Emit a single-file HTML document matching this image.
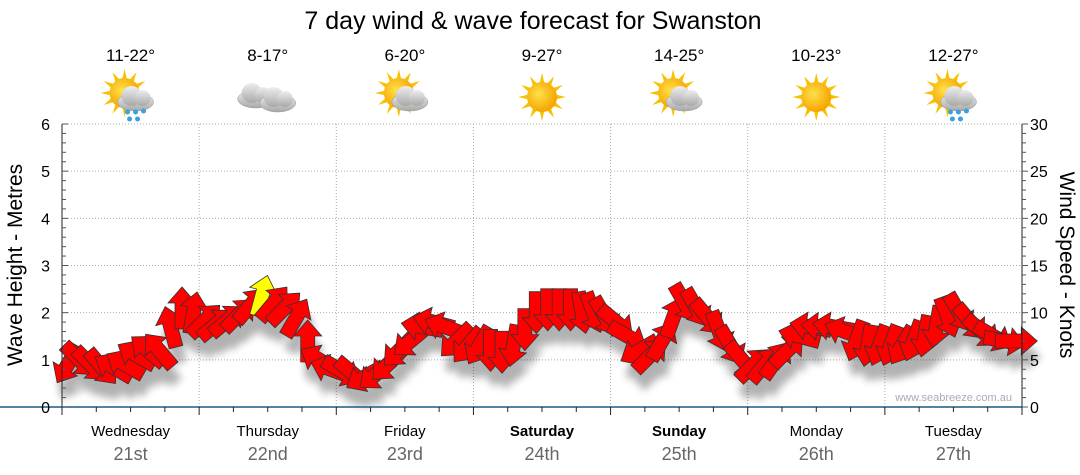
<!DOCTYPE html>
<html><head><meta charset="utf-8"><style>
body{margin:0;background:#fff;font-family:"Liberation Sans","DejaVu Sans",sans-serif}
svg{display:block}
</style></head><body>
<svg id="c" width="1080" height="475" xmlns="http://www.w3.org/2000/svg">
<defs>
<filter id="sh" x="-50%" y="-50%" width="200%" height="200%"><feGaussianBlur stdDeviation="4"/></filter>
<radialGradient id="sun" cx="0.4" cy="0.4" r="0.6"><stop offset="0" stop-color="#ffe14a"/><stop offset="1" stop-color="#f5a500"/></radialGradient>
<linearGradient id="cl" x1="0" y1="0" x2="0" y2="1"><stop offset="0" stop-color="#eee"/><stop offset="1" stop-color="#a8a8a8"/></linearGradient>
</defs>
<text x="533" y="29" font-size="25" text-anchor="middle">7 day wind &amp; wave forecast for Swanston</text>
<g id="grid"></g>
<g id="shadows" filter="url(#sh)" opacity="0.3"></g>
<g id="arrows"></g>
<g id="axes"></g>
<text x="1012" y="401" font-size="11" fill="#aab" text-anchor="end">www.seabreeze.com.au</text>
<text transform="translate(22,265) rotate(-90)" font-size="21" text-anchor="middle">Wave Height - Metres</text>
<text transform="translate(1060,265) rotate(90)" font-size="21" text-anchor="middle">Wind Speed - Knots</text>
<g id="wx"></g>
</svg>
<script>
const days=["Wednesday","Thursday","Friday","Saturday","Sunday","Monday","Tuesday"];
const dates=["21st","22nd","23rd","24th","25th","26th","27th"];
const bold=[false,false,false,true,true,false,false];
const temps=["11-22°","8-17°","6-20°","9-27°","14-25°","10-23°","12-27°"];
const icons=["sunrain","cloud","suncloud","sun","suncloud","sun","sunrain"];
const waveTicks=[0,1,2,3,4,5,6];
const windTicks=[0,5,10,15,20,25,30];
// 2-hourly wind samples (hour = 1 + 2*i)
const windSpeed=[
4.5,5,4.5,4.2,4.2,4.5,5.5,6,6,8.5,10.5,10,
9.2,8.8,9.2,9.8,10.8,11.8,11,10.5,9.5,7,5,4,
3.8,3.5,3.2,3.5,4.5,6,7,8.5,9,8.5,7,6.5,
6.5,6,5.8,6.5,8.2,10,10.3,10.3,10.3,10,10,9.6,
9,7.5,6,5.5,7,9.5,11,10.5,9.5,8,6.5,5,
4.5,4.5,5,6,7.5,8.5,8.5,8.5,8,7,6.5,6.5,
6.5,6.5,7,7.5,8.5,9.5,10,9,8,7.5,7,7];
const windDir=[
210,135,135,140,300,300,300,310,320,345,0,10,
45,50,50,45,40,15,40,45,30,0,300,290,
120,130,240,230,225,225,230,280,285,290,225,220,
210,180,180,190,180,180,180,180,180,170,160,150,
130,120,240,45,30,20,150,150,140,160,150,140,
45,40,35,45,285,280,275,280,290,200,190,200,
200,210,200,190,190,160,150,140,130,120,100,90];
const yellowIdx=[17];

const X0=62,X1=1022,Y0=407,Y1=124;
const xH=h=>X0+(X1-X0)*h/168;
const yM=m=>Y0-(Y0-Y1)*m/6;
const yK=k=>Y0-(Y0-Y1)*k/30;
const NS="http://www.w3.org/2000/svg";
function mk(parent,tag,attrs){const e=document.createElementNS(NS,tag);for(const k in attrs)e.setAttribute(k,attrs[k]);document.getElementById(parent).appendChild(e);return e;}

waveTicks.forEach(m=>{if(m>0){const l=mk("grid","line",{x1:X0,x2:X1,y1:yM(m),y2:yM(m),stroke:"#aaa","stroke-dasharray":"1,2"});

}});
for(let d=1;d<7;d++){const l=mk("grid","line",{x1:xH(d*24),x2:xH(d*24),y1:Y1,y2:Y0,stroke:"#aaa","stroke-dasharray":"1,2"});

}
mk("axes","line",{x1:X0,x2:X0,y1:Y1,y2:Y0,stroke:"#222"});
mk("axes","line",{x1:X1,x2:X1,y1:Y1,y2:Y0,stroke:"#222"});
mk("axes","line",{x1:X0-62,x2:X1,y1:Y0,y2:Y0,stroke:"#1a5a80","stroke-width":1.5});
for(let i=0;i<=30;i++){const y=Y0-(Y0-Y1)*i/30;mk("axes","line",{x1:X0,x2:X0+(i%5==0?6:4),y1:y,y2:y,stroke:"#555"});mk("axes","line",{x1:X1,x2:X1+(i%5==0?6:4),y1:y,y2:y,stroke:"#555"});}
waveTicks.forEach(m=>{const t=mk("axes","text",{x:X0-12,y:yM(m)+6,"font-size":16,"text-anchor":"end"});t.textContent=m;

});
windTicks.forEach(k=>{const t=mk("axes","text",{x:X1+8,y:yK(k)+6,"font-size":16});t.textContent=k;

});
for(let h=0;h<=168;h+=6){mk("axes","line",{x1:xH(h),x2:xH(h),y1:Y0,y2:Y0+(h%24==0?8:5),stroke:"#222"});}
days.forEach((d,i)=>{const cx=xH(i*24+12);
const t=mk("axes","text",{x:cx,y:436,"font-size":15,"text-anchor":"middle","font-weight":bold[i]?"bold":"normal"});t.textContent=d;


const t2=mk("axes","text",{x:cx,y:460,"font-size":18,fill:"#666","text-anchor":"middle"});t2.textContent=dates[i];


const t3=mk("wx","text",{x:cx,y:61,"font-size":17,"text-anchor":"middle"});t3.textContent=temps[i];


drawIcon(icons[i],cx,97);});
function drawIcon(type,cx,cy){
 const g=mk("wx","g",{transform:`translate(${cx},${cy})`});
 
 
 const add=(tag,a)=>{const e=document.createElementNS(NS,tag);for(const k in a)e.setAttribute(k,a[k]);g.appendChild(e);};
 if(type!=="cloud"){const ox=type==="sun"?0:-6,oy=type==="sun"?0:-4;
  for(let a=0;a<360;a+=30){const r=Math.PI*a/180;add("polygon",{points:`${ox+Math.cos(r)*24},${oy+Math.sin(r)*24} ${ox+Math.cos(r+0.2)*13},${oy+Math.sin(r+0.2)*13} ${ox+Math.cos(r-0.2)*13},${oy+Math.sin(r-0.2)*13}`,fill:"#f7c200"});}
  add("circle",{cx:ox,cy:oy,r:15,fill:"url(#sun)"});}
 if(type!=="sun"){const dx=type==="cloud"?-12:5,dy=type==="cloud"?-2:1;
  [[dx,dy]].concat(type==="cloud"?[[dx+22,dy+4]]:[]).forEach(([x,y])=>{
   add("ellipse",{cx:x,cy:y+4,rx:18,ry:9,fill:"url(#cl)",stroke:"#999","stroke-width":0.5});
   add("circle",{cx:x-4,cy:y-2,r:10,fill:"url(#cl)"});add("circle",{cx:x+7,cy:y,r:8,fill:"url(#cl)"});});
  if(type==="sunrain"){[[-3,15],[5,15],[13,14],[-1,22],[7,22]].forEach(([x,y])=>add("circle",{cx:x,cy:y,r:2.5,fill:"#3aa0e0"}));}}
}
const shape="M0,-21 L14,-5 L7,-5 L7,21 L-7,21 L-7,-5 L-14,-5 Z";
windSpeed.forEach((v,i)=>{
 const x=xH(1+2*i),y=yK(v);
 const s=mk("shadows","path",{d:shape,transform:`translate(${x+4},${y+16}) rotate(${windDir[i]})`,fill:"#000"});
 
 
 const a=mk("arrows","path",{d:shape,transform:`translate(${x},${y}) rotate(${windDir[i]})`,fill:yellowIdx.includes(i)?"#ffff00":"#ff0000",stroke:"#333","stroke-width":0.8});
 
 
});
</script>
</body></html>
